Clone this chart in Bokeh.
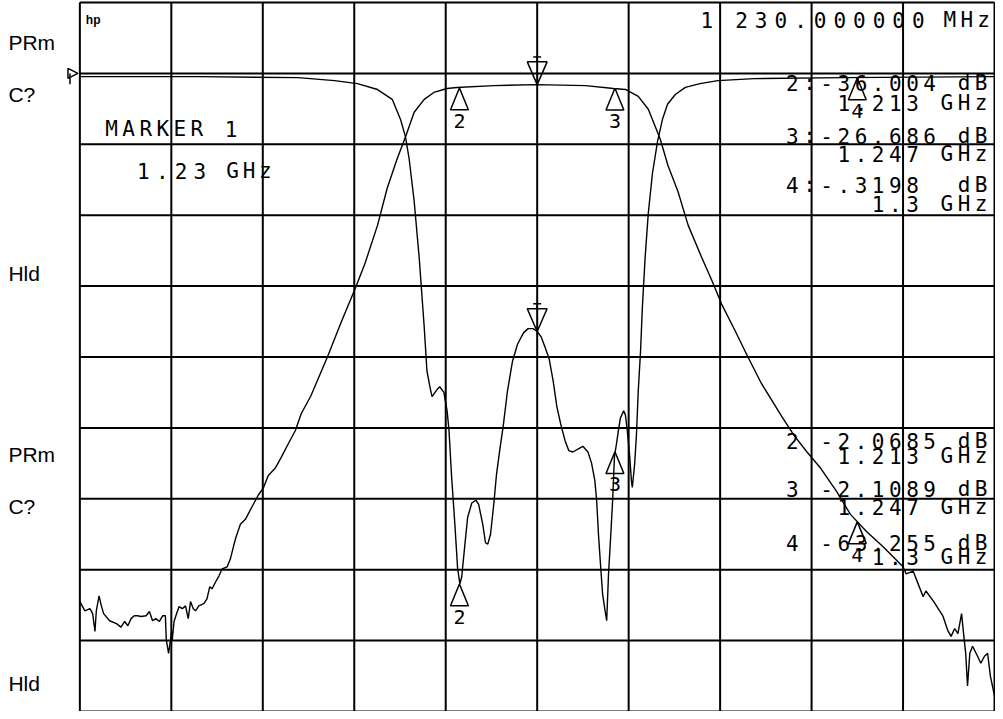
import numpy as np
from bokeh.plotting import figure
from bokeh.models import Range1d, ColumnDataSource
from bokeh.embed import file_html
from bokeh.resources import INLINE
from bokeh.core.properties import value

# Trace A: reflection, 5 dB/div, reference 0 dB
A_freq_mhz = [
    1130.0, 1156.0, 1177.7, 1185.7, 1190.7, 1195.1, 1198.3, 1200.1, 1201.2, 1202.0,
    1203.1, 1204.2, 1205.3, 1205.9, 1206.6, 1207.0, 1208.1, 1208.7, 1209.6, 1210.3,
    1210.7, 1211.3, 1212.0, 1212.6, 1213.1, 1213.5, 1214.2, 1214.8, 1215.7, 1216.6,
    1217.2, 1218.1, 1218.7, 1219.2, 1219.8, 1220.5, 1221.1, 1221.8, 1222.6, 1223.5,
    1224.6, 1225.7, 1227.0, 1228.0, 1229.1, 1230.0, 1230.9, 1231.7, 1232.6, 1233.5,
    1234.3, 1235.2, 1236.1, 1236.9, 1237.8, 1238.9, 1240.0, 1241.1, 1241.9, 1242.6,
    1243.0, 1243.4, 1243.9, 1244.3, 1244.8, 1245.2, 1245.6, 1246.1, 1246.5, 1246.9,
    1247.4, 1247.8, 1248.2, 1248.9, 1249.3, 1249.7, 1250.2, 1250.6, 1250.8, 1251.3,
    1251.7, 1252.1, 1252.6, 1253.0, 1253.6, 1254.3, 1255.2, 1256.3, 1257.4, 1258.5,
    1260.2, 1262.4, 1265.6, 1269.5, 1277.5, 1297.0, 1330.0]
A_db = [
    -0.23, -0.23, -0.30, -0.51, -0.72, -1.14, -1.83, -3.23, -4.48, -6.02,
    -9.02, -13.0, -17.9, -21.0, -22.2, -22.8, -22.3, -22.1, -22.5, -23.8,
    -25.1, -28.5, -31.8, -34.9, -36.0, -35.5, -33.2, -31.3, -30.3, -30.1,
    -30.4, -31.8, -33.1, -33.2, -32.5, -30.4, -28.3, -26.6, -24.8, -22.4,
    -20.3, -19.1, -18.3, -18.0, -18.0, -18.2, -18.6, -19.3, -20.1, -21.7,
    -23.5, -24.8, -25.9, -26.6, -26.7, -26.5, -26.3, -26.7, -27.5, -28.7,
    -30.1, -32.5, -34.9, -36.7, -37.8, -38.6, -35.3, -32.5, -30.1, -27.0,
    -26.0, -25.1, -24.3, -23.8, -24.1, -25.2, -26.9, -28.7, -29.2, -27.6,
    -25.5, -22.4, -19.6, -16.5, -13.0, -9.85, -7.06, -4.83, -3.23, -2.18,
    -1.49, -0.99, -0.72, -0.51, -0.37, -0.30, -0.23]

# Trace B: transmission, 10 dB/div, reference 0 dB
B_freq_mhz = [
    1130.0, 1131.1, 1132.2, 1132.8, 1133.3, 1133.6, 1134.2, 1134.7, 1135.2, 1136.5,
    1138.0, 1139.0, 1139.8, 1140.5, 1141.2, 1141.9, 1142.6, 1143.4, 1144.5, 1145.2,
    1145.9, 1146.6, 1147.4, 1148.1, 1148.7, 1148.9, 1149.4, 1149.7, 1150.1, 1150.2,
    1150.6, 1151.0, 1151.7, 1152.4, 1153.1, 1153.7, 1154.2, 1154.8, 1155.3, 1156.0,
    1157.1, 1157.8, 1158.4, 1158.9, 1159.7, 1160.4, 1161.1, 1162.2, 1162.9, 1163.6,
    1164.1, 1165.1, 1166.2, 1167.5, 1169.0, 1170.1, 1171.2, 1172.7, 1174.0, 1175.6,
    1177.1, 1178.4, 1180.5, 1184.2, 1187.0, 1190.3, 1192.3, 1195.1, 1197.2, 1199.4,
    1201.2, 1203.1, 1205.3, 1207.4, 1210.3, 1212.4, 1220.5, 1229.8, 1240.6, 1246.7,
    1249.3, 1252.1, 1254.3, 1256.9, 1258.6, 1260.8, 1263.0, 1266.0, 1268.2, 1270.3,
    1273.2, 1276.0, 1279.0, 1283.4, 1286.2, 1289.0, 1292.0, 1295.5, 1298.5, 1302.0,
    1305.7, 1310.0, 1310.7, 1312.2, 1313.3, 1314.4, 1315.0, 1316.6, 1318.7, 1319.8,
    1320.5, 1321.3, 1322.0, 1322.8, 1323.3, 1323.7, 1324.1, 1324.6, 1325.2, 1326.3,
    1327.0, 1327.8, 1328.5, 1329.1, 1330.0]
B_db = [
    -74.5, -75.8, -75.5, -76.2, -78.7, -75.8, -73.7, -75.1, -76.2, -77.2,
    -77.6, -78.1, -77.3, -77.9, -76.9, -76.5, -76.5, -76.6, -76.5, -75.9,
    -77.2, -76.9, -77.3, -76.5, -76.5, -79.9, -81.8, -80.4, -78.7, -79.9,
    -77.3, -76.5, -75.2, -75.5, -75.1, -76.9, -74.5, -75.5, -75.8, -75.1,
    -74.8, -74.1, -72.4, -72.7, -71.7, -70.9, -69.9, -69.6, -68.5, -66.7,
    -65.5, -63.6, -62.9, -61.3, -59.5, -58.5, -56.7, -55.7, -54.2, -52.2,
    -50.4, -48.0, -45.5, -39.9, -35.3, -30.2, -26.9, -21.4, -16.2, -12.0,
    -8.97, -5.48, -3.67, -2.69, -2.13, -1.99, -1.72, -1.58, -1.72, -2.13,
    -2.27, -3.25, -5.06, -9.25, -13.0, -16.7, -21.4, -26.0, -29.2, -32.5,
    -36.2, -39.9, -43.7, -48.3, -51.1, -53.4, -55.7, -59.0, -62.2, -64.6,
    -66.8, -69.6, -70.6, -70.2, -72.0, -73.8, -73.0, -74.4, -76.5, -78.6,
    -79.4, -78.3, -79.0, -76.2, -79.4, -81.8, -86.4, -81.8, -80.8, -82.2,
    -83.2, -82.2, -81.8, -85.0, -87.8]

assert len(A_freq_mhz) == len(A_db) and len(B_freq_mhz) == len(B_db)

marker_ids = ["1", "2", "3", "4"]
marker_freq_mhz = [1230.0, 1213.0, 1247.0, 1300.0]
A_marker_db = [None, -36.004, -26.686, -0.3198]
B_marker_db = [None, -2.0685, -2.1089, -63.255]

upper_lines = ["2:-36.004 dB", "1.213 GHz", "3:-26.686 dB", "1.247 GHz",
               "4:-.3198  dB", "1.3 GHz"]
lower_lines = ["2 -2.0685 dB", "1.213 GHz", "3 -2.1089 dB", "1.247 GHz",
               "4 -63.255 dB", "1.3 GHz"]
channel_labels = ["PRm", "C?", "Hld", "PRm", "C?", "Hld"]
active_marker = ["MARKER 1"]
active_freq = ["1.23", "GHz"]
stimulus = ["1", "230.000000", "MHz"]

START_MHZ, STOP_MHZ = 1130.0, 1330.0
N_DIV = 10
A_SCALE, B_SCALE = 5.0, 10.0   # dB per division
REF_DB = 0.0

# ---------------- screen geometry (screen pixels, scaled into the figure) ----------------
W, H = 995, 711
SCR_L, SCR_R, SCR_T, SCR_B = 0.0, 1003.0, 0.0, 719.0   # whole analyzer screen
GR_L, GR_R, GR_T, GR_B = 80.0, 1002.0, 2.0, 719.0      # graticule
px_per_mhz = (GR_R - GR_L) / (STOP_MHZ - START_MHZ)
div_px = (GR_B - GR_T) / N_DIV
ref_px = GR_T + div_px   # reference line one division below top

def fx(f):
    return GR_L + (f - START_MHZ) * px_per_mhz

def fy(db, scale):
    return ref_px - (db - REF_DB) / scale * div_px

x_start = START_MHZ - (GR_L - SCR_L) / px_per_mhz
x_end = STOP_MHZ + (SCR_R - GR_R) / px_per_mhz

def yrange(scale):
    top = REF_DB + (ref_px - SCR_T) / div_px * scale
    bot = REF_DB - (SCR_B - ref_px) / div_px * scale
    return bot, top

a_bot, a_top = yrange(A_SCALE)
b_bot, b_top = yrange(B_SCALE)

p = figure(width=W, height=H, x_range=Range1d(x_start, x_end),
           y_range=Range1d(a_bot, a_top), output_backend="svg",
           toolbar_location=None, x_axis_location=None, y_axis_location=None,
           min_border=0)
p.min_border_left = p.min_border_right = p.min_border_top = p.min_border_bottom = 0
p.grid.visible = False
p.outline_line_color = None
p.background_fill_color = "white"
p.border_fill_color = "white"
p.extra_y_ranges = {"b": Range1d(b_bot, b_top), "py": Range1d(SCR_B, SCR_T)}
p.extra_x_ranges = {"px": Range1d(SCR_L, SCR_R)}

# graticule
vx = list(np.linspace(START_MHZ, STOP_MHZ, N_DIV + 1))
g_top = REF_DB + A_SCALE
g_bot = REF_DB - (N_DIV - 1) * A_SCALE
p.segment(x0=vx, y0=[g_bot] * len(vx), x1=vx, y1=[g_top] * len(vx),
          line_color="black", line_width=2)
hy = [REF_DB + A_SCALE * (1 - i) for i in range(N_DIV + 1)]
p.segment(x0=[START_MHZ] * len(hy), y0=hy, x1=[STOP_MHZ] * len(hy), y1=hy,
          line_color="black", line_width=2)

# traces
p.line(A_freq_mhz, A_db, line_color="black", line_width=1.4)
p.line(B_freq_mhz, B_db, line_color="black", line_width=1.4, y_range_name="b")

# ---------------- texts ----------------
chars = {"x": [], "y": [], "t": []}

def put(s, x_first, y, pitch):
    for i, ch in enumerate(s):
        if ch != " ":
            chars["x"].append(x_first + i * pitch)
            chars["y"].append(y)
            chars["t"].append(ch)

def put_right(s, x_last, y, pitch):
    put(s, x_last - (len(s) - 1) * pitch, y, pitch)

LIST_PITCH = 17.3
LIST_RIGHT = 988.5
for s, y in zip(upper_lines, [83, 104, 137, 155, 187, 206]):
    put_right(s, LIST_RIGHT, y, LIST_PITCH)
for s, y in zip(lower_lines, [445, 461, 494, 512, 549, 563]):
    put_right(s, LIST_RIGHT, y, LIST_PITCH)
put(active_marker[0], 112, 129.5, 17.2)
put(active_freq[0], 144, 172, 19.0)
put(active_freq[1], 234, 172, 16.5)
put(stimulus[0], 712, 20, 19.8)
put(stimulus[1], 747, 20, 19.8)
put(stimulus[2], 957, 20, 17.0)

csrc = ColumnDataSource(chars)
p.text(x="x", y="y", text="t", source=csrc, x_range_name="px", y_range_name="py",
       text_font=value("DejaVu Sans Mono"), text_font_size="21px",
       text_align="center", text_baseline="middle", text_color="black")

p.text(x=[8] * 6, y=[42, 95, 276, 459, 512, 691], text=channel_labels,
       x_range_name="px", y_range_name="py", text_font=value("Liberation Sans"),
       text_font_size="21px", text_align="left", text_baseline="middle",
       text_color="black")
p.text(x=[86], y=[20], text=["hp"], x_range_name="px", y_range_name="py",
       text_font=value("Liberation Sans"), text_font_size="12px",
       text_font_style="bold", text_align="left", text_baseline="middle",
       text_color="black")

# ---------------- markers ----------------
tri_x, tri_y = [], []
bar = {"x0": [], "y0": [], "x1": [], "y1": []}
num = {"x": [], "y": [], "t": []}
A_f = np.array(A_freq_mhz); B_f = np.array(B_freq_mhz)
for mid, f, adb, bdb in zip(marker_ids, marker_freq_mhz, A_marker_db, B_marker_db):
    for dbv, arrf, arrd, sc in ((adb, A_f, A_db, A_SCALE), (bdb, B_f, B_db, B_SCALE)):
        if dbv is None:
            dbv = float(np.interp(f, arrf, arrd))
        ax, ay = fx(f), fy(dbv, sc)
        if mid == "1":
            tri_x.append([ax - 10, ax, ax + 10])
            tri_y.append([ay - 23, ay, ay - 23])
            bar["x0"] += [ax - 4, ax]
            bar["y0"] += [ay - 28, ay - 28]
            bar["x1"] += [ax + 4, ax]
            bar["y1"] += [ay - 28, ay - 23]
        else:
            tri_x.append([ax - 9, ax, ax + 9])
            tri_y.append([ay + 22, ay, ay + 22])
            num["x"].append(ax); num["y"].append(ay + 33); num["t"].append(mid)

p.patches(xs=tri_x, ys=tri_y, fill_color=None, line_color="black", line_width=1.5,
          x_range_name="px", y_range_name="py")
p.segment(x0="x0", y0="y0", x1="x1", y1="y1", source=ColumnDataSource(bar),
          line_color="black", line_width=1.5, x_range_name="px", y_range_name="py")
p.text(x="x", y="y", text="t", source=ColumnDataSource(num), x_range_name="px",
       y_range_name="py", text_font=value("DejaVu Sans Mono"), text_font_size="20px",
       text_align="center", text_baseline="middle", text_color="black")

# reference-position indicator at the left edge
p.patches(xs=[[68, 78, 68]], ys=[[ref_px - 5, ref_px, ref_px + 5]], fill_color=None,
          line_color="black", line_width=1.5, x_range_name="px", y_range_name="py")
p.segment(x0=[70], y0=[ref_px], x1=[70], y1=[ref_px + 11], line_color="black",
          line_width=1.5, x_range_name="px", y_range_name="py")

open("out.html", "w").write(file_html(p, INLINE))
